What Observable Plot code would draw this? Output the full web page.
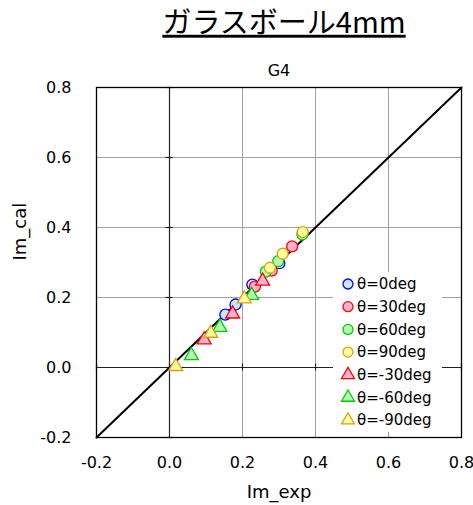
<!DOCTYPE html>
<html><head><meta charset="utf-8">
<script src="https://cdn.jsdelivr.net/npm/d3@7"></script>
<script src="https://cdn.jsdelivr.net/npm/@observablehq/plot@0.6"></script>
<style>body{margin:0;background:#fff}</style>
</head><body><div id="chart"></div>
<script>
const titleText = "ガラスボール4mm";
const subTitle = "G4";
const xLabel = "Im_exp";
const yLabel = "Im_cal";
const axisTicks = [-0.2, 0, 0.2, 0.4, 0.6, 0.8];
const gridTicks = [0.2, 0.4, 0.6];
const diag = [-0.2, 0.8];

const seriesNames = ["θ=0deg","θ=30deg","θ=60deg","θ=90deg","θ=-30deg","θ=-60deg","θ=-90deg"];
const seriesSymbols = ["circle","circle","circle","circle","triangle","triangle","triangle"];
const seriesStroke = ["#0000ff","#ff0000","#00cc00","#d4a017","#ff0000","#00cc00","#d4a017"];
const seriesFill = ["#cce6ff","#ffb3d1","#b3ffb3","#ffff99","#ffb3d1","#b3ffb3","#ffff99"];

const exp0 = [0.153, 0.181, 0.227, 0.301];
const cal0 = [0.151, 0.180, 0.237, 0.298];
const exp30 = [0.234, 0.280, 0.336];
const cal30 = [0.231, 0.277, 0.346];
const exp60 = [0.264, 0.298, 0.364];
const cal60 = [0.274, 0.304, 0.380];
const exp90 = [0.275, 0.310, 0.365];
const cal90 = [0.285, 0.325, 0.387];
const expM30 = [0.095, 0.173, 0.255];
const calM30 = [0.079, 0.153, 0.247];
const expM60 = [0.060, 0.138, 0.225];
const calM60 = [0.034, 0.115, 0.206];
const expM90 = [0.017, 0.113, 0.205];
const calM90 = [0.003, 0.098, 0.196];

const expAll = [exp0, exp30, exp60, exp90, expM30, expM60, expM90];
const calAll = [cal0, cal30, cal60, cal90, calM30, calM60, calM90];

const fmt = d => d.toFixed(1);
const dotMarks = expAll.map((xs, i) => Plot.dot(xs.map((x, j) => ({x, y: calAll[i][j]})), {
  x: "x", y: "y", symbol: () => seriesSymbols[i],
  r: seriesSymbols[i] === "circle" ? 5.5 : 5.2,
  stroke: seriesStroke[i], fill: seriesFill[i], strokeWidth: 1.3
}));

const plot = Plot.plot({
  width: 473, height: 505,
  marginLeft: 96, marginRight: 12, marginTop: 87, marginBottom: 68,
  x: {domain: [-0.2, 0.8]}, y: {domain: [-0.2, 0.8]},
  symbol: {type: "identity"},
  style: {fontFamily: "DejaVu Sans", background: "white", color: "black"},
  marks: [
    Plot.ruleX(gridTicks, {stroke: "#a0a0a0", strokeWidth: 1}),
    Plot.ruleY(gridTicks, {stroke: "#a0a0a0", strokeWidth: 1}),
    Plot.ruleX([0], {stroke: "#222", strokeWidth: 1.2}),
    Plot.ruleY([0], {stroke: "#222", strokeWidth: 1.2}),
    Plot.ruleY(axisTicks, {y: d => d, x1: -0.01, x2: 0.01, stroke: "#222", strokeWidth: 1.2}),
    Plot.ruleX(axisTicks, {x: d => d, y1: -0.01, y2: 0.01, stroke: "#222", strokeWidth: 1.2}),
    Plot.frame({stroke: "black", strokeWidth: 1.3}),
    Plot.axisX({ticks: axisTicks, tickFormat: fmt, tickSize: 0, tickPadding: 19, fontSize: 16, label: null}),
    Plot.axisY({ticks: axisTicks, tickFormat: fmt, tickSize: 0, tickPadding: 25, fontSize: 16, label: null}),
    Plot.text([xLabel], {text: d => d, frameAnchor: "bottom", dy: 55, fontSize: 18, lineAnchor: "middle"}),
    Plot.text([yLabel], {text: d => d, frameAnchor: "left", dx: -76, dy: -2, rotate: -90, fontSize: 18, lineAnchor: "middle"}),
    Plot.text([subTitle], {text: d => d, frameAnchor: "top", dy: -17, fontSize: 16, lineAnchor: "middle"}),
    Plot.text([titleText], {text: d => d, frameAnchor: "top", dx: 5, dy: -64, fontSize: 29, lineAnchor: "middle", fontFamily: "Noto Sans CJK JP", className: "ttl"}),
    Plot.line(diag, {x: d => d, y: d => d, stroke: "black", strokeWidth: 2}),
    ...dotMarks
  ]
});
document.getElementById("chart").append(plot);
const svg = d3.select(plot);
svg.selectAll(".ttl text").attr("text-decoration", "underline");

// legend
const lg = svg.append("g").attr("font-family", "DejaVu Sans").attr("font-size", 15).attr("text-anchor", "start");
lg.append("rect").attr("x", 333).attr("y", 272).attr("width", 109).attr("height", 160).attr("fill", "white");
seriesNames.forEach((name, i) => {
  const cy = 284 + i * 22.7;
  const sym = seriesSymbols[i] === "circle" ? d3.symbolCircle : d3.symbolTriangle;
  const size = seriesSymbols[i] === "circle" ? Math.PI * 5 * 5 : Math.PI * 4.8 * 4.8;
  lg.append("path").attr("d", d3.symbol(sym, size)()).attr("transform", `translate(348,${cy})`)
    .attr("fill", seriesFill[i]).attr("stroke", seriesStroke[i]).attr("stroke-width", 1.3);
  lg.append("text").attr("x", 357).attr("y", cy).attr("dy", "0.35em").text(name);
});
</script></body></html>
